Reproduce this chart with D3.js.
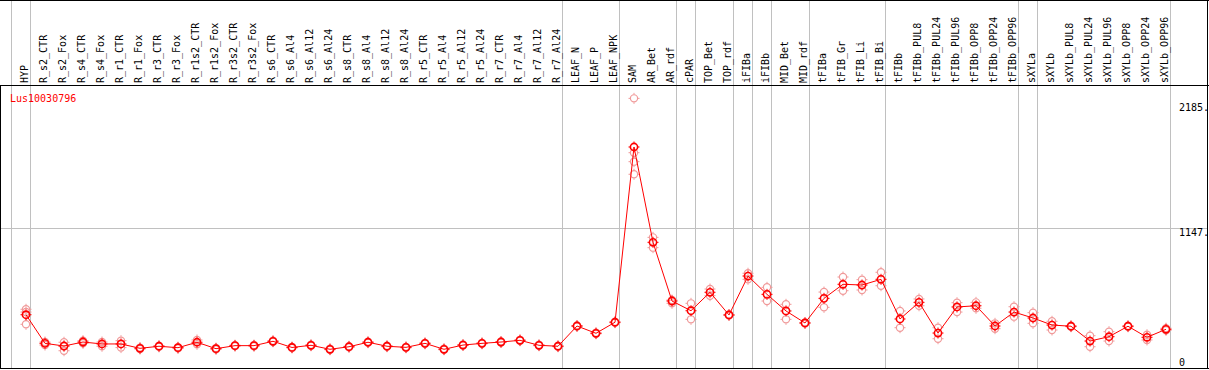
<!DOCTYPE html>
<html>
<head>
<meta charset="utf-8">
<script src="https://cdn.jsdelivr.net/npm/d3@7"></script>
<style>
  body { margin: 0; background: #fff; }
  svg { display: block; font-family: "DejaVu Sans Mono", monospace; }
</style>
</head>
<body>
<div id="chart"></div>
<script>
// expression profile of one gene across tissues / treatments

const categories = ["HYP","R_s2_CTR","R_s2_Fox","R_s4_CTR","R_s4_Fox","R_r1_CTR","R_r1_Fox","R_r3_CTR","R_r3_Fox",
  "R_r1s2_CTR","R_r1s2_Fox","R_r3s2_CTR","R_r3s2_Fox","R_s6_CTR","R_s6_Al4","R_s6_Al12","R_s6_Al24",
  "R_s8_CTR","R_s8_Al4","R_s8_Al12","R_s8_Al24","R_r5_CTR","R_r5_Al4","R_r5_Al12","R_r5_Al24",
  "R_r7_CTR","R_r7_Al4","R_r7_Al12","R_r7_Al24","LEAF_N","LEAF_P","LEAF_NPK","SAM","AR_Bet","AR_rdf",
  "cPAR","TOP_Bet","TOP_rdf","iFIBa","iFIBb","MID_Bet","MID_rdf","tFIBa","tFIB_Gr","tFIB_Li","tFIB_Bi",
  "tFIBb","tFIBb_PUL8","tFIBb_PUL24","tFIBb_PUL96","tFIBb_OPP8","tFIBb_OPP24","tFIBb_OPP96",
  "sXYLa","sXYLb","sXYLb_PUL8","sXYLb_PUL24","sXYLb_PUL96","sXYLb_OPP8","sXYLb_OPP24","sXYLb_OPP96"];

const means = [431,195,173,206,190,190,154,171,159,204,151,176,176,212,161,179,146,
  167,204,171,162,195,146,181,195,206,220,179,171,338,278,369,1814,1028,544,
  464,616,429,750,599,462,363,566,682,676,723,
  396,533,280,495,505,338,453,
  404,346,336,214,250,336,245,311];

const replicates = [[476,453,352],[206,181],[204,173,134],[217,195],[206,171],[217,160],[160,148],[176,166],[164,154],
  [223,187],[156,146],[180,172],[181,171],[216,208],[165,157],[183,175],[150,142],
  [171,163],[208,200],[175,167],[166,158],[199,191],[150,142],[185,177],[199,191],
  [210,202],[224,216],[183,175],[175,167],[342,334],[282,274],[373,365],[2215,1767,1693,1589],[1069,984],[552,525],
  [525,393],[643,588],[433,425],[773,723],[657,544],[517,393],[367,359],[618,492],[742,629],[720,635],[781,670],
  [462,324],[561,505],[324,233],[530,453],[533,484],[360,316],[497,415],
  [448,360],[377,305],[340,332],[258,167],[291,214],[340,332],[266,223],[320,302]];

const groupStarts = ["HYP","R_s2_CTR","LEAF_N","SAM","cPAR","TOP_Bet","iFIBa","iFIBb","MID_Bet","tFIBa","tFIBb","sXYLa","sXYLb"];
const yTicks = [0, 1147, 2185];
const geneName = "Lus10030796";

const width = 1209, height = 370;
const headerBottom = 85;

const svg = d3.select("#chart").append("svg")
  .attr("width", width).attr("height", height);

const x = d3.scaleBand()
  .domain(categories)
  .range([11, 11 + 19 * categories.length]);

const y = d3.scaleLinear()
  .domain([0, 2185])
  .range([367, 102]);

const px = d => x(d) + 15;

// gridline for the middle tick
svg.append("line")
  .attr("x1", 1).attr("x2", width - 1)
  .attr("y1", Math.round(y(1147)) + 0.5).attr("y2", Math.round(y(1147)) + 0.5)
  .attr("stroke", "#c0c0c0");

// group separators
const seps = groupStarts.map(c => x(c)).concat([x.range()[1]]);
svg.selectAll(".sep")
  .data(seps)
  .join("line")
  .attr("class", "sep")
  .attr("x1", d => d + 0.5).attr("x2", d => d + 0.5)
  .attr("y1", 0).attr("y2", 368)
  .attr("stroke", "#c0c0c0");

// frame
svg.append("line").attr("x1", 0).attr("x2", width).attr("y1", 0.5).attr("y2", 0.5).attr("stroke", "#000");
svg.append("line").attr("x1", 0).attr("x2", width).attr("y1", headerBottom + 0.5).attr("y2", headerBottom + 0.5).attr("stroke", "#000");
svg.append("line").attr("x1", 0).attr("x2", width).attr("y1", 368.5).attr("y2", 368.5).attr("stroke", "#000");
svg.append("line").attr("x1", 0.5).attr("x2", 0.5).attr("y1", headerBottom).attr("y2", 369).attr("stroke", "#000");
svg.append("line").attr("x1", width - 1.5).attr("x2", width - 1.5).attr("y1", 0).attr("y2", 369).attr("stroke", "#000");

// column labels, rotated
svg.selectAll(".lab")
  .data(categories)
  .join("text")
  .attr("class", "lab")
  .attr("transform", d => `translate(${x(d) + 17},83) rotate(-90)`)
  .attr("font-size", "10px")
  .attr("fill", "#000")
  .text(d => d);

// y tick labels on the right
svg.selectAll(".ytick")
  .data(yTicks)
  .join("text")
  .attr("class", "ytick")
  .attr("x", 1179)
  .attr("y", d => Math.min(y(d) + 8.5, 365.5))
  .attr("font-size", "10px")
  .attr("fill", "#000")
  .text(d => d === 0 ? "0" : d + ".");

svg.append("text")
  .attr("x", 10).attr("y", 102)
  .attr("font-size", "10px")
  .attr("fill", "#ff0000")
  .text(geneName);

function marker(g, color, sw) {
  g.append("circle")
    .attr("r", 3.6)
    .attr("fill", "none")
    .attr("stroke", color)
    .attr("stroke-width", sw);
  g.append("path")
    .attr("d", "M-5.5,0h1.5M4,0h1.5M0,-5.5v1.5M0,4v1.5")
    .attr("stroke", color)
    .attr("stroke-width", 1);
}

// replicates
const reps = [];
categories.forEach((c, i) => replicates[i].forEach(v => reps.push({c, v})));
svg.selectAll(".rep")
  .data(reps)
  .join("g")
  .attr("class", "rep")
  .attr("transform", d => `translate(${px(d.c)},${y(d.v)})`)
  .each(function() { marker(d3.select(this), "#f09a9a", 1.2); });

// mean line
const line = d3.line()
  .x((d, i) => px(categories[i]))
  .y(d => y(d));

svg.append("path")
  .datum(means)
  .attr("d", line)
  .attr("fill", "none")
  .attr("stroke", "#ff0000")
  .attr("stroke-width", 1);

svg.selectAll(".mean")
  .data(means)
  .join("g")
  .attr("class", "mean")
  .attr("transform", (d, i) => `translate(${px(categories[i])},${y(d)})`)
  .each(function() { marker(d3.select(this), "#ff0000", 1.6); });
</script>
</body>
</html>
